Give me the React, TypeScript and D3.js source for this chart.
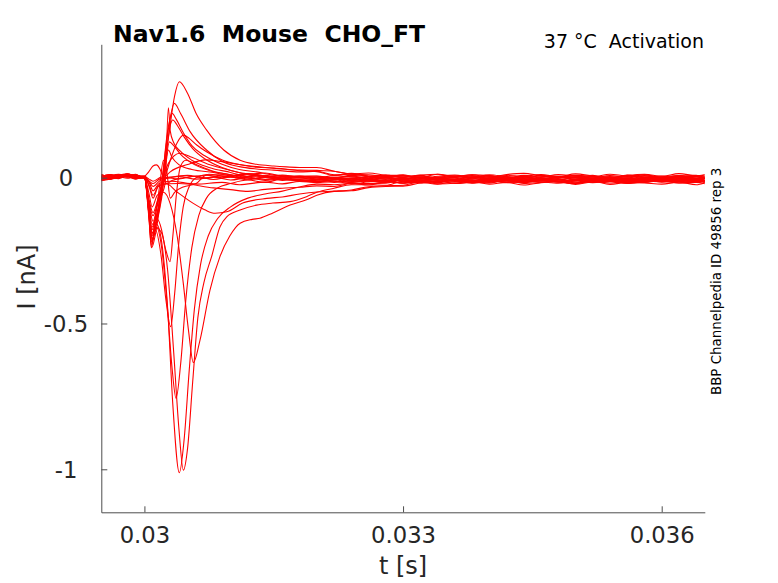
import React, { useEffect, useRef } from 'react';
import * as d3 from 'd3';

// time in ms, current in nA
const X_TICKS = [0.03, 0.033, 0.036];
const X_LABELS = ['0.03', '0.033', '0.036'];
const Y_TICKS = [-1, -0.5, 0];
const Y_LABELS = ['-1', '-0.5', '0'];

const PRE_T = [29.5, 29.6, 29.7, 29.8, 29.9, 29.97];
const TAIL_T = [32.0, 32.2, 32.4, 32.6, 32.8, 33.0, 33.2, 33.4, 33.6, 33.8, 34.0, 34.2, 34.4, 34.6, 34.8, 35.0, 35.2, 35.4, 35.6, 35.8, 36.0, 36.2, 36.4, 36.5];

const PRE_VALUES = [
  [0.004, -0.004, 0.006, 0.009, 0.002, 0.004],
  [-0.006, 0.004, 0.002, 0.011, 0.005, 0.0],
  [0.008, 0.002, 0.01, 0.004, 0.007, 0.006],
  [0.001, 0.009, 0.003, 0.013, 0.004, 0.002],
  [-0.008, 0.001, 0.005, 0.006, -0.004, 0.0],
  [0.003, 0.011, 0.004, 0.01, 0.006, 0.004],
  [-0.01, -0.003, 0.002, 0.007, 0.002, 0.002],
  [0.002, -0.006, 0.006, 0.003, 0.01, 0.0],
  [0.011, 0.003, 0.009, 0.013, 0.005, 0.003],
  [-0.005, 0.002, -0.003, 0.006, 0.001, 0.0],
  [0.007, 0.0, 0.01, 0.004, 0.009, 0.002],
  [-0.01, -0.005, 0.0, 0.004, -0.004, 0.0],
  [0.004, 0.011, 0.005, 0.012, 0.007, 0.004],
  [0.0, 0.007, 0.012, 0.007, 0.002, 0.006],
  [-0.007, 0.0, 0.003, -0.002, 0.004, 0.002],
  [0.009, 0.002, 0.007, 0.012, 0.003, 0.0],
  [-0.004, 0.005, 0.0, 0.008, 0.01, 0.003],
  [0.003, -0.005, 0.004, 0.009, 0.002, 0.0],
  [0.01, 0.004, 0.011, 0.006, 0.012, 0.002],
  [-0.006, 0.001, 0.008, 0.003, -0.003, 0.0],
  [0.001, 0.009, 0.003, 0.011, 0.006, 0.004],
  [0.006, -0.002, 0.002, 0.008, 0.003, 0.0],
  [-0.003, 0.004, 0.01, 0.002, 0.007, 0.002],
  [0.005, -0.003, 0.005, 0.012, 0.004, 0.0],
];

// [ms, nA] points during the step
const EARLY_POINTS = [
  [[30.0, 0.004], [30.05, -0.004], [30.1, -0.012], [30.2, 0.002], [30.4, -0.004], [30.6, 0.005], [30.8, -0.006], [31.0, 0.002], [31.2, -0.007], [31.4, 0.0], [31.6, -0.006], [31.8, 0.001]],
  [[30.0, 0.0], [30.05, -0.01], [30.1, -0.02], [30.18, -0.004], [30.4, 0.004], [30.6, -0.005], [30.8, 0.002], [31.0, -0.008], [31.2, 0.0], [31.4, -0.009], [31.6, -0.003], [31.8, -0.01]],
  [[30.0, 0.006], [30.06, -0.015], [30.1, -0.03], [30.18, -0.01], [30.3, 0.0], [30.5, 0.008], [30.7, -0.002], [30.9, 0.006], [31.1, -0.001], [31.3, 0.007], [31.6, 0.0], [31.8, 0.006]],
  [[30.0, 0.002], [30.06, -0.02], [30.1, -0.045], [30.17, -0.02], [30.3, -0.012], [30.6, -0.022], [30.9, -0.016], [31.1, -0.024], [31.4, -0.015], [31.6, -0.021], [31.8, -0.013]],
  [[30.0, 0.0], [30.06, -0.03], [30.1, -0.06], [30.17, -0.025], [30.4, -0.02], [30.8, -0.035], [31.0, -0.041], [31.2, -0.047], [31.4, -0.04], [31.6, -0.036], [31.8, -0.033]],
  [[30.0, 0.004], [30.06, -0.035], [30.1, -0.07], [30.16, -0.03], [30.25, -0.02], [30.375, -0.048], [30.567, -0.088], [30.7, -0.11], [30.82, -0.122], [30.955, -0.117], [31.14, -0.087], [31.42, -0.071], [31.6, -0.066], [31.8, -0.056]],
  [[30.0, 0.002], [30.05, -0.05], [30.09, -0.1], [30.15, -0.06], [30.22, -0.05], [30.3, -0.09], [30.38, -0.2], [30.45, -0.36], [30.51, -0.52], [30.568, -0.634], [30.645, -0.557], [30.76, -0.386], [30.877, -0.27], [30.99, -0.2], [31.11, -0.156], [31.25, -0.143], [31.34, -0.139], [31.49, -0.121], [31.69, -0.094], [31.88, -0.076]],
  [[30.0, 0.0], [30.05, -0.08], [30.09, -0.16], [30.14, -0.14], [30.2, -0.18], [30.27, -0.32], [30.34, -0.6], [30.4, -0.86], [30.452, -1.003], [30.5, -0.93], [30.56, -0.7], [30.62, -0.48], [30.69, -0.36], [30.78, -0.27], [30.877, -0.168], [30.955, -0.134], [31.11, -0.111], [31.3, -0.094], [31.49, -0.087], [31.69, -0.082], [31.88, -0.065]],
  [[30.0, 0.003], [30.05, -0.09], [30.09, -0.19], [30.14, -0.16], [30.2, -0.22], [30.27, -0.45], [30.33, -0.78], [30.405, -1.012], [30.46, -0.9], [30.52, -0.66], [30.58, -0.45], [30.65, -0.3], [30.74, -0.2], [30.85, -0.14], [31.0, -0.1], [31.2, -0.07], [31.4, -0.056], [31.6, -0.046], [31.8, -0.032]],
  [[30.0, 0.0], [30.05, -0.1], [30.09, -0.21], [30.14, -0.17], [30.2, -0.24], [30.26, -0.42], [30.32, -0.65], [30.367, -0.757], [30.42, -0.64], [30.48, -0.42], [30.55, -0.24], [30.63, -0.13], [30.72, -0.07], [30.85, -0.035], [31.0, -0.02], [31.2, -0.008], [31.4, -0.016], [31.6, -0.004], [31.8, -0.012]],
  [[30.0, 0.002], [30.05, -0.11], [30.085, -0.22], [30.13, -0.18], [30.19, -0.26], [30.25, -0.42], [30.305, -0.511], [30.35, -0.4], [30.4, -0.22], [30.45, -0.1], [30.52, -0.03], [30.6, 0.0], [30.75, 0.012], [30.95, 0.004], [31.15, 0.011], [31.4, 0.002], [31.6, 0.009], [31.8, 0.003]],
  [[30.0, 0.0], [30.05, -0.12], [30.085, -0.23], [30.13, -0.17], [30.2, -0.19], [30.25, -0.25], [30.297, -0.288], [30.33, -0.2], [30.37, -0.06], [30.42, 0.04], [30.48, 0.06], [30.6, 0.045], [30.8, 0.022], [31.0, 0.01], [31.2, 0.0], [31.4, -0.006], [31.6, -0.002], [31.8, -0.01]],
  [[30.0, 0.004], [30.05, -0.12], [30.08, -0.24], [30.12, -0.15], [30.18, -0.02], [30.22, 0.06], [30.26, 0.02], [30.3, -0.07], [30.35, -0.05], [30.45, -0.032], [30.6, -0.02], [30.72, 0.009], [30.9, 0.0], [31.1, 0.008], [31.3, -0.002], [31.5, 0.006], [31.8, -0.002]],
  [[30.0, 0.006], [30.05, 0.02], [30.1, 0.04], [30.14, 0.044], [30.18, 0.03], [30.22, 0.0], [30.26, -0.02], [30.32, -0.01], [30.45, 0.0], [30.6, 0.006], [30.9, 0.01], [31.1, 0.001], [31.3, 0.008], [31.6, -0.002], [31.8, -0.008]],
  [[30.0, 0.002], [30.05, -0.07], [30.1, -0.12], [30.15, -0.08], [30.22, -0.01], [30.3, 0.02], [30.5, 0.045], [30.71, 0.061], [30.9, 0.055], [31.1, 0.045], [31.4, 0.035], [31.6, 0.03], [31.8, 0.024]],
  [[30.0, 0.0], [30.05, -0.08], [30.1, -0.15], [30.14, -0.11], [30.2, -0.02], [30.28, 0.05], [30.41, 0.084], [30.55, 0.07], [30.75, 0.045], [31.0, 0.025], [31.2, 0.012], [31.4, 0.016], [31.6, 0.004], [31.8, 0.0]],
  [[30.0, 0.003], [30.05, -0.1], [30.085, -0.17], [30.13, -0.14], [30.2, -0.06], [30.25, 0.05], [30.278, 0.095], [30.32, 0.07], [30.4, 0.045], [30.55, 0.028], [30.8, 0.018], [31.0, 0.008], [31.2, 0.014], [31.5, 0.002], [31.8, 0.006]],
  [[30.0, 0.0], [30.05, -0.11], [30.085, -0.2], [30.13, -0.16], [30.2, -0.07], [30.25, 0.06], [30.29, 0.123], [30.34, 0.11], [30.42, 0.08], [30.55, 0.05], [30.75, 0.025], [31.0, 0.01], [31.2, -0.004], [31.4, 0.002], [31.6, -0.009], [31.8, -0.006]],
  [[30.0, 0.002], [30.05, -0.08], [30.1, -0.13], [30.15, -0.09], [30.22, -0.02], [30.3, 0.06], [30.38, 0.12], [30.452, 0.146], [30.52, 0.135], [30.607, 0.112], [30.72, 0.089], [30.91, 0.06], [31.1, 0.045], [31.3, 0.036], [31.5, 0.033], [31.8, 0.026]],
  [[30.0, 0.0], [30.05, -0.13], [30.085, -0.24], [30.13, -0.19], [30.2, -0.05], [30.26, 0.1], [30.3, 0.18], [30.33, 0.198], [30.38, 0.18], [30.46, 0.14], [30.56, 0.1], [30.7, 0.065], [30.9, 0.035], [31.1, 0.018], [31.3, 0.01], [31.5, 0.002], [31.8, -0.008]],
  [[30.0, 0.004], [30.05, -0.12], [30.085, -0.22], [30.13, -0.17], [30.2, -0.03], [30.26, 0.14], [30.32, 0.221], [30.37, 0.2], [30.45, 0.155], [30.55, 0.11], [30.7, 0.075], [30.9, 0.046], [31.1, 0.028], [31.3, 0.02], [31.5, 0.009], [31.8, 0.004]],
  [[30.0, 0.0], [30.05, -0.1], [30.085, -0.18], [30.13, -0.14], [30.2, -0.06], [30.24, -0.02], [30.278, 0.24], [30.3, 0.16], [30.34, 0.12], [30.42, 0.09], [30.55, 0.06], [30.75, 0.035], [31.0, 0.018], [31.2, 0.004], [31.4, 0.008], [31.6, -0.004], [31.8, -0.01]],
  [[30.0, 0.002], [30.05, -0.11], [30.09, -0.21], [30.14, -0.15], [30.2, -0.02], [30.27, 0.15], [30.347, 0.255], [30.42, 0.22], [30.53, 0.158], [30.72, 0.095], [30.91, 0.055], [31.1, 0.038], [31.3, 0.03], [31.5, 0.026], [31.8, 0.02]],
  [[30.0, 0.0], [30.05, -0.1], [30.09, -0.19], [30.14, -0.14], [30.2, -0.02], [30.28, 0.14], [30.35, 0.28], [30.405, 0.329], [30.5, 0.29], [30.6, 0.22], [30.72, 0.164], [30.92, 0.095], [31.11, 0.06], [31.3, 0.046], [31.5, 0.04], [31.65, 0.037], [31.8, 0.035]],
];

const TAIL_VALUES = [
  [-0.004, 0.001, -0.007, 0.002, -0.006, -0.011, -0.003, 0.0, -0.009, -0.002, -0.010, -0.001, 0.003, -0.005, -0.008, 0.001, -0.006, -0.012, -0.004, 0.0, -0.007, 0.002, -0.005, -0.002],
  [-0.014, -0.008, -0.004, -0.011, -0.016, -0.007, -0.012, -0.005, -0.010, -0.017, -0.006, -0.009, -0.013, -0.004, -0.015, -0.010, -0.007, -0.012, -0.005, -0.016, -0.009, -0.013, -0.006, -0.011],
  [0.005, 0.0, 0.003, -0.004, 0.006, 0.002, 0.008, -0.001, 0.001, 0.007, -0.002, 0.004, -0.005, 0.003, 0.006, 0.0, 0.008, -0.003, 0.004, 0.002, -0.002, 0.005, -0.004, 0.003],
  [-0.017, -0.012, -0.021, -0.014, -0.009, -0.019, -0.016, -0.022, -0.013, -0.015, -0.018, -0.010, -0.020, -0.016, -0.011, -0.023, -0.014, -0.012, -0.019, -0.015, -0.010, -0.018, -0.016, -0.021],
  [-0.028, -0.030, -0.020, -0.020, -0.019, -0.006, -0.018, -0.011, -0.007, -0.014, -0.009, -0.016, -0.012, -0.005, -0.013, -0.010, -0.017, -0.009, -0.014, -0.006, -0.015, -0.012, -0.008, -0.016],
  [-0.049, -0.046, -0.042, -0.031, -0.028, -0.026, -0.014, -0.016, -0.008, -0.019, -0.014, -0.012, -0.017, -0.009, -0.015, -0.020, -0.010, -0.013, -0.018, -0.011, -0.014, -0.009, -0.016, -0.012],
  [-0.060, -0.047, -0.045, -0.034, -0.030, -0.029, -0.018, -0.012, -0.015, -0.008, -0.016, -0.007, -0.003, -0.011, -0.014, -0.005, -0.012, -0.018, -0.010, -0.006, -0.013, -0.004, -0.011, -0.008],
  [-0.050, -0.036, -0.024, -0.024, -0.026, -0.012, -0.013, -0.001, -0.006, -0.013, -0.002, -0.005, -0.009, 0.0, -0.011, -0.006, -0.003, -0.008, -0.001, -0.012, -0.005, -0.009, -0.002, -0.007],
  [-0.022, -0.024, -0.019, -0.025, -0.014, -0.018, -0.012, -0.021, -0.019, -0.013, -0.022, -0.016, -0.025, -0.017, -0.014, -0.020, -0.012, -0.023, -0.016, -0.018, -0.022, -0.015, -0.024, -0.017],
  [-0.009, -0.004, -0.013, -0.006, -0.001, -0.011, -0.008, -0.014, -0.005, -0.007, -0.010, -0.002, -0.012, -0.008, -0.003, -0.015, -0.006, -0.004, -0.011, -0.007, -0.002, -0.010, -0.008, -0.013],
  [0.006, -0.001, 0.008, 0.004, 0.001, 0.010, -0.002, 0.005, 0.009, 0.002, 0.007, 0.0, 0.004, 0.011, 0.003, 0.006, -0.001, 0.007, 0.002, 0.010, 0.001, 0.004, 0.008, 0.0],
  [-0.007, -0.012, -0.016, -0.009, -0.011, -0.018, -0.008, -0.014, -0.006, -0.017, -0.012, -0.010, -0.015, -0.007, -0.013, -0.018, -0.008, -0.011, -0.016, -0.009, -0.012, -0.007, -0.014, -0.010],
  [0.002, -0.001, 0.006, -0.003, 0.004, 0.0, -0.008, -0.002, 0.005, -0.004, -0.001, 0.007, 0.003, -0.006, 0.002, -0.005, 0.004, 0.001, -0.007, -0.002, 0.006, -0.003, 0.005, 0.0],
  [-0.007, -0.002, -0.009, -0.005, -0.012, -0.001, -0.008, -0.003, -0.006, -0.011, 0.0, -0.009, -0.005, -0.002, -0.013, -0.006, -0.001, -0.008, -0.003, -0.012, -0.007, 0.0, -0.004, -0.010],
  [0.021, 0.008, 0.015, 0.006, 0.008, 0.008, 0.001, 0.012, 0.004, 0.010, 0.007, -0.001, 0.008, 0.002, 0.011, 0.005, 0.003, 0.012, 0.006, 0.010, 0.0, 0.007, 0.004, 0.009],
  [-0.007, -0.002, -0.004, 0.004, -0.001, -0.005, 0.002, 0.0, -0.009, 0.003, -0.002, -0.006, 0.004, -0.004, -0.001, 0.001, -0.008, -0.002, -0.005, 0.005, 0.0, -0.007, 0.002, -0.003],
  [-0.001, 0.007, 0.003, 0.0, 0.009, 0.001, 0.006, -0.002, 0.005, 0.002, 0.010, 0.003, -0.001, 0.006, 0.001, 0.008, 0.004, -0.003, 0.009, 0.0, 0.003, 0.007, -0.002, 0.005],
  [-0.012, -0.016, -0.009, -0.014, -0.011, -0.018, -0.013, -0.010, -0.020, -0.015, -0.009, -0.017, -0.012, -0.014, -0.019, -0.008, -0.016, -0.010, -0.020, -0.013, -0.011, -0.018, -0.014, -0.009],
  [0.025, 0.022, 0.013, 0.016, 0.008, 0.003, 0.009, 0.012, 0.003, 0.010, 0.002, 0.011, 0.015, 0.007, 0.004, 0.013, 0.006, 0.0, 0.008, 0.012, 0.005, 0.014, 0.007, 0.010],
  [-0.013, -0.007, -0.003, -0.010, -0.015, -0.006, -0.011, -0.004, -0.009, -0.016, -0.005, -0.008, -0.012, -0.003, -0.014, -0.009, -0.006, -0.011, -0.004, -0.015, -0.008, -0.012, -0.005, -0.010],
  [0.0, -0.005, -0.002, -0.009, 0.001, -0.003, 0.003, -0.006, -0.004, 0.002, -0.007, -0.001, -0.010, -0.002, 0.001, -0.005, 0.003, -0.008, -0.001, -0.003, -0.007, 0.0, -0.009, -0.002],
  [-0.012, -0.007, -0.016, -0.009, -0.004, -0.014, -0.011, -0.017, -0.008, -0.010, -0.013, -0.005, -0.015, -0.011, -0.006, -0.018, -0.009, -0.007, -0.014, -0.010, -0.005, -0.013, -0.011, -0.016],
  [0.022, 0.010, 0.012, 0.005, 0.0, 0.007, -0.005, 0.002, 0.006, -0.001, 0.004, -0.003, 0.001, 0.008, 0.0, 0.003, -0.004, 0.004, -0.001, 0.007, -0.002, 0.001, 0.005, -0.003],
  [0.035, 0.022, 0.012, 0.010, 0.003, -0.007, -0.001, -0.007, 0.001, -0.010, -0.005, -0.003, -0.008, 0.0, -0.006, -0.011, -0.001, -0.004, -0.009, -0.002, -0.005, 0.0, -0.007, -0.003],
];

const TITLE = 'Nav1.6  Mouse  CHO_FT';
const SUBTITLE = '37 °C  Activation';
const SIDE_NOTE = 'BBP Channelpedia ID 49856 rep 3';

const FONT = '"DejaVu Sans", sans-serif';
const AXIS_COLOR = '#4d4d4d';
const TEXT_COLOR = '#262626';

export default function App() {
  const svgRef = useRef<SVGSVGElement>(null);

  useEffect(() => {
    if (!svgRef.current) return;
    const svg = d3.select(svgRef.current);
    svg.selectAll('*').remove();

    const width = 778;
    const height = 583;
    const left = 101.3, right = 704.8, top = 44.3, bottom = 512.3;

    const x = d3.scaleLinear().domain([0.0295, 0.0365]).range([left, right]);
    const y = d3.scaleLinear().domain([-1.1475, 0.4575]).range([bottom, top]);

    svg.attr('width', width).attr('height', height);
    svg.append('rect').attr('width', width).attr('height', height).attr('fill', 'white');

    // traces: pre-pulse baseline + step response + tail
    const traces = EARLY_POINTS.map((early, i) => {
      const pts: [number, number][] = [];
      PRE_T.forEach((t, j) => pts.push([t, PRE_VALUES[i][j]]));
      early.forEach(p => pts.push([p[0], p[1]]));
      TAIL_T.forEach((t, j) => pts.push([t, TAIL_VALUES[i][j]]));
      return pts;
    });

    const line = d3.line<[number, number]>()
      .x(d => x(d[0] / 1000))
      .y(d => y(d[1]))
      .curve(d3.curveMonotoneX);

    const clipId = 'plot-clip';
    svg.append('defs').append('clipPath').attr('id', clipId)
      .append('rect').attr('x', left).attr('y', top).attr('width', right - left).attr('height', bottom - top);

    svg.append('g').attr('clip-path', `url(#${clipId})`)
      .selectAll('path')
      .data(traces)
      .join('path')
      .attr('d', d => line(d))
      .attr('fill', 'none')
      .attr('stroke', '#ff0000')
      .attr('stroke-width', 1.1)
      .attr('stroke-linejoin', 'round');

    // axes (ticks inward)
    const xAxis = svg.append('g')
      .attr('transform', `translate(0,${bottom})`)
      .call(d3.axisBottom(x).tickValues(X_TICKS)
        .tickFormat((_, i) => X_LABELS[i])
        .tickSizeInner(-6).tickSizeOuter(0).tickPadding(15));

    const yAxis = svg.append('g')
      .attr('transform', `translate(${left},0)`)
      .call(d3.axisLeft(y).tickValues(Y_TICKS)
        .tickFormat((_, i) => Y_LABELS[i])
        .tickSizeInner(-6).tickSizeOuter(0));

    [xAxis, yAxis].forEach(a => {
      a.select('.domain').attr('stroke', AXIS_COLOR);
      a.selectAll('.tick line').attr('stroke', AXIS_COLOR);
      a.selectAll('.tick text')
        .attr('fill', TEXT_COLOR)
        .style('font-family', FONT)
        .style('font-size', '22.7px');
    });

    yAxis.selectAll('.tick text')
      .attr('x', 66 - left)
      .attr('dy', '0.36em')
      .attr('text-anchor', 'middle');

    // labels
    svg.append('text')
      .attr('x', (left + right) / 2).attr('y', 574)
      .attr('text-anchor', 'middle')
      .attr('fill', TEXT_COLOR)
      .style('font-family', FONT).style('font-size', '24px')
      .text('t [s]');

    svg.append('text')
      .attr('transform', `translate(35,277) rotate(-90)`)
      .attr('text-anchor', 'middle')
      .attr('fill', TEXT_COLOR)
      .style('font-family', FONT).style('font-size', '24px')
      .text('I [nA]');

    svg.append('text')
      .attr('x', 113).attr('y', 41.7)
      .attr('fill', '#000')
      .style('font-family', FONT).style('font-size', '23.5px').style('font-weight', 'bold')
      .style('white-space', 'pre')
      .text(TITLE);

    svg.append('text')
      .attr('x', 704).attr('y', 48)
      .attr('text-anchor', 'end')
      .attr('fill', '#000')
      .style('font-family', FONT).style('font-size', '19px')
      .style('white-space', 'pre')
      .text(SUBTITLE);

    svg.append('text')
      .attr('transform', `translate(721,395) rotate(-90)`)
      .attr('fill', '#000')
      .style('font-family', FONT).style('font-size', '13.4px')
      .text(SIDE_NOTE);
  }, []);

  return (
    <div style={{ position: 'absolute', left: 0, top: 0 }}>
      <svg ref={svgRef} style={{ display: 'block' }} />
    </div>
  );
}
